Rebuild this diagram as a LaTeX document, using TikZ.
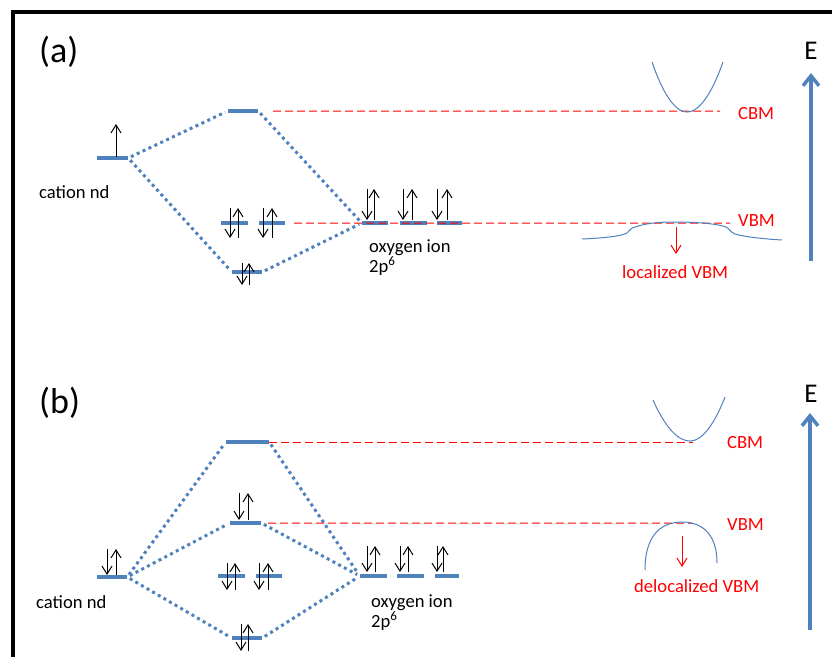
\documentclass[tikz,border=0pt]{standalone}
\usepackage{fontspec}
\setmainfont{Carlito}
\usetikzlibrary{arrows.meta,positioning,calc}
\definecolor{lvlblue}{HTML}{4F81BD}
\definecolor{bandred}{rgb}{1,0,0}
% spin pair: node, x of down arrow, x of up arrow, top dy, bottom dy
\newcommand{\updown}[5]{%
  \draw[spin] ($(#1)+(#2,#4)$) -- ($(#1)+(#2,#5)$);
  \draw[spin] ($(#1)+(#3,#5)$) -- ($(#1)+(#3,#4)$);}
\tikzset{
  lvl/.style={rectangle, fill=lvlblue, inner sep=0pt, minimum height=3.5pt, minimum width=#1},
  lvl/.default=30pt,
  mix/.style={draw=lvlblue, line width=3pt, dash pattern=on 3pt off 3.5pt, shorten <=3pt, shorten >=3pt},
  refline/.style={red, line width=1pt, dash pattern=on 8pt off 4pt},
  band/.style={draw=lvlblue, line width=1pt},
  spin/.style={-{Straight Barb[length=8pt,width=10pt]}, line width=1pt},
  redarrow/.style={-{Straight Barb[length=8pt,width=10pt]}, draw=bandred, line width=1pt},
  eaxis/.style={-{Straight Barb[length=10pt,width=16pt]}, draw=lvlblue, line width=3.5pt},
  txt/.style={font=\fontsize{18.6}{20}\selectfont, inner sep=0pt, anchor=base west},
  redtxt/.style={txt, text=bandred},
  panel/.style={font=\fontsize{36}{40}\selectfont, inner sep=0pt, anchor=base west},
  elbl/.style={font=\fontsize{27}{30}\selectfont, inner sep=0pt, anchor=base}
}
\begin{document}
\begin{tikzpicture}[x=1pt, y=-1pt]
  \useasboundingbox (0,0) rectangle (832,657);
  \draw[line width=4pt] (13,657) -- (13,12) -- (832,12);

  % (a) localized
  \node[panel] (pa) at (39,62) {(a)};
  \node[lvl=31pt] (ca) at (112.5,158) {};
  \node[lvl=30pt] (aa) at (243,111) {};
  \node[lvl=27pt] (na1) at (234.5,223) {};
  \node[lvl=26pt] (na2) at (272,223) {};
  \node[lvl=30pt] (ba) at (247,272) {};
  \node[lvl=26pt] (oa1) at (375,223) {};
  \node[lvl=27pt] (oa2) at (413.5,223) {};
  \node[lvl=25pt] (oa3) at (449.5,223) {};
  \node[txt] (cna) at (39,198) {cation nd};
  \node[txt, align=left] (oxa) at (369,272) {oxygen ion\\2p\textsuperscript{6}};
  \draw[mix] (ca.east) -- (aa.west);
  \draw[mix] (ca.east) -- (ba.west);
  \draw[mix] (aa.east) -- (oa1.west);
  \draw[mix] (ba.east) -- (oa1.west);
  \coordinate (cbmenda) at (720,111.2);
  \coordinate (vbmenda) at (730,223.2);
  \draw[refline, shorten <=15pt] (aa.east) -- (cbmenda);
  \draw[refline, shorten <=9pt] (na2.east) -- (vbmenda);
  \draw[spin] ($(ca)+(3.5,-1)$) -- ($(ca)+(3.5,-34)$);
  \foreach \n/\a/\b/\t/\u in {na1/-4.5/3.5/-15/15, na2/-9/0/-15/15, ba/-5/2/-9/13,
                              oa1/-8/-1/-34/-3, oa2/-10.5/-1.5/-34/-3, oa3/-12.5/-2.5/-34/-3}
    \updown{\n}{\a}{\b}{\t}{\u};
  \node[redtxt] (cbmta) at (738,119) {CBM};
  \node[redtxt] (vbmta) at (738,226) {VBM};
  \draw[band] (652,62) parabola bend (687,112) (723,62);
  \draw[band] (582,239) .. controls (605,238) and (622,236) .. (627,233)
    .. controls (630,231) and (630,228) .. (635,227)
    .. controls (650,222) and (665,222) .. (677,222)
    .. controls (690,222) and (715,223) .. (726,227)
    .. controls (730,229) and (730,232) .. (735,234)
    .. controls (745,237) and (765,239) .. (782,240);
  \coordinate (sha0) at (676,227);
  \coordinate (sha1) at (676,254);
  \draw[redarrow] (sha0) -- (sha1);
  \node[redtxt] (loca) at (622,278) {localized VBM};
  \coordinate (ea0) at (811,261);
  \coordinate (ea1) at (811,73);
  \draw[eaxis] (ea0) -- (ea1);
  \node[elbl] (ea) at (811,59) {E};

  % (b) delocalized
  \node[panel] (pb) at (39,413) {(b)};
  \node[lvl=30pt] (cb) at (112,577) {};
  \node[lvl=43pt] (ab) at (247.5,442) {};
  \node[lvl=31pt] (mb) at (245.5,523) {};
  \node[lvl=27pt] (nb1) at (231.5,576) {};
  \node[lvl=26pt] (nb2) at (269,576) {};
  \node[lvl=30pt] (bb) at (247,638) {};
  \node[lvl=27pt] (ob1) at (373.5,576) {};
  \node[lvl=27pt] (ob2) at (410.5,576) {};
  \node[lvl=24pt] (ob3) at (447,576) {};
  \node[txt] (cnb) at (36,608) {cation nd};
  \node[txt, align=left] (oxb) at (371,627) {oxygen ion\\2p\textsuperscript{6}};
  \draw[mix] (cb.east) -- (ab.west);
  \draw[mix] (cb.east) -- (mb.west);
  \draw[mix] (cb.east) -- (bb.west);
  \draw[mix] (ab.east) -- (ob1.west);
  \draw[mix] (mb.east) -- (ob1.west);
  \draw[mix] (bb.east) -- (ob1.west);
  \coordinate (cbmendb) at (693,442);
  \coordinate (vbmendb) at (692,523.2);
  \draw[refline] (ab.east) -- (cbmendb);
  \draw[refline, shorten <=7pt] (mb.east) -- (vbmendb);
  \foreach \n/\a/\b/\t/\u in {cb/-5/4/-28/-2, mb/-6.5/2.5/-30/-3, nb1/-4.5/3.5/-13/14,
                              nb2/-10/-1/-13/14, bb/-6/1/-14/13,
                              ob1/-6.5/1.5/-30/-4, ob2/-10.5/-2.5/-30/-4, ob3/-10/-4/-30/-4}
    \updown{\n}{\a}{\b}{\t}{\u};
  \node[redtxt] (cbmtb) at (727,448) {CBM};
  \node[redtxt] (vbmtb) at (727,530) {VBM};
  \draw[band] (653,400) parabola bend (690,441) (725,397);
  \draw[band] (645,570) .. controls (645,532) and (664,522) .. (682,522)
    .. controls (700,522) and (717,532) .. (717,563);
  \coordinate (shb0) at (682,536);
  \coordinate (shb1) at (682,567);
  \draw[redarrow] (shb0) -- (shb1);
  \node[redtxt] (delb) at (634,592) {delocalized VBM};
  \coordinate (eb0) at (810,630);
  \coordinate (eb1) at (810,413);
  \draw[eaxis] (eb0) -- (eb1);
  \node[elbl] (eb) at (811,402) {E};
\end{tikzpicture}
\end{document}
